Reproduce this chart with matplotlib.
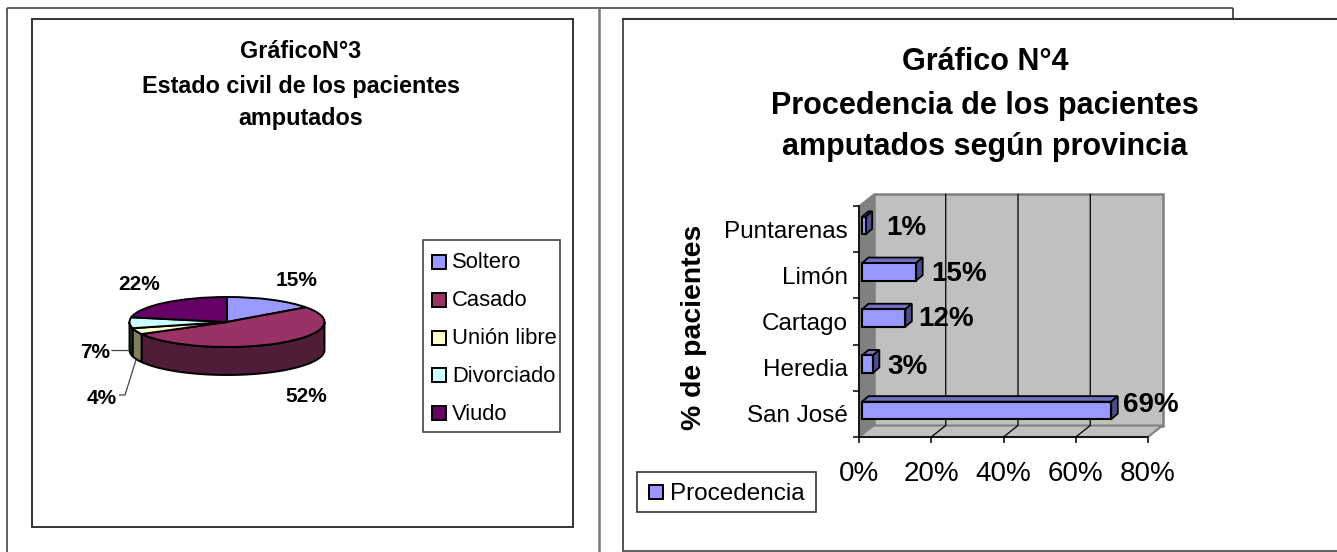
import numpy as np
import matplotlib
matplotlib.use("Agg")
import matplotlib.pyplot as plt
from matplotlib.patches import Rectangle, Polygon

plt.rcParams['font.family'] = ['Liberation Sans', 'DejaVu Sans']

# ---- data ----
civil_labels = ['Soltero', 'Casado', 'Unión libre', 'Divorciado', 'Viudo']
civil_values = [15, 52, 4, 7, 22]
civil_text = ['15%', '52%', '4%', '7%', '22%']
civil_title = ['GráficoN°3', 'Estado civil de los pacientes', 'amputados']

prov_labels = ['San José', 'Heredia', 'Cartago', 'Limón', 'Puntarenas']
prov_values = [69, 3, 12, 15, 1]
prov_text = ['69%', '3%', '12%', '15%', '1%']
prov_ticks = [0, 20, 40, 60, 80]
prov_title = ['Gráfico N°4', 'Procedencia de los pacientes', 'amputados según provincia']

# ---- styles ----
W, H = 1337, 552
pie_top = ['#9999FF', '#993366', '#FFFFCC', '#CCFFFF', '#660066']
pie_side = ['#4D4D80', '#4F1D38', '#808060', '#2A3A3A', '#330033']

fig = plt.figure(figsize=(W / 100, H / 100), dpi=100, facecolor='white')


def px_axes(x0, x1, ytop, ybot, z=1):
    a = fig.add_axes([x0 / W, 1 - ybot / H, (x1 - x0) / W, (ybot - ytop) / H], zorder=z)
    a.patch.set_alpha(0)
    return a


# ---- page overlay in pixel coordinates ----
bg = fig.add_axes([0, 0, 1, 1], zorder=0)
bg.set_xlim(0, W)
bg.set_ylim(H, 0)
bg.axis('off')
over = fig.add_axes([0, 0, 1, 1], zorder=5)
over.set_xlim(0, W)
over.set_ylim(H, 0)
over.axis('off')
over.patch.set_alpha(0)


def seg(xs, ys, c='black', lw=1.2, a=bg):
    a.plot(xs, ys, color=c, lw=lw, solid_capstyle='butt', clip_on=False)


seg([7, 1233], [8, 8], '#555555', 1.3)
seg([7, 7], [8, 552], '#444444', 1.2)
seg([599, 599], [8, 552], '#777777', 1.8)
seg([1233, 1233], [8, 19], '#333333', 1.2)
seg([622, 1337], [19, 19], '#333333', 1.5)
seg([622.5, 622.5], [19, 551], '#333333', 1.2)
seg([622, 1337], [551, 551], '#555555', 1.3)
bg.add_patch(Rectangle((32, 19), 541, 508, fc='white', ec='#333333', lw=1.4))
bg.add_patch(Rectangle((423, 240), 137, 192, fc='white', ec='#444444', lw=1.2))
bg.add_patch(Rectangle((637, 472), 179, 40, fc='white', ec='#333333', lw=1.2))

# titles
for s, y in zip(civil_title, [52, 86, 118]):
    over.text(301, y, s, fontsize=16.8, fontweight='bold', ha='center', va='center')
for s, y in zip(prov_title, [62, 106, 147]):
    over.text(985, y, s, fontsize=22, fontweight='bold', ha='center', va='center')

# ---- pie ----
rx, ry, depth = 97.5, 25, 28
cx, cy = 227, 322
pa = px_axes(cx - rx, cx + rx, cy - ry, cy + ry + depth, 2)
wedges, _ = pa.pie(civil_values, colors=pie_top, startangle=90, counterclock=False,
                   radius=1, wedgeprops=dict(ec='black', lw=1.4))
pa.set_aspect('auto')
pa.set_xlim(-1, 1)
pa.set_ylim(-1 - 2 * depth / (2 * ry), 1)
for w in wedges:
    w.set_clip_on(False)
    w.set_zorder(5)
d = depth / ry
cum = np.cumsum([0] + civil_values) / sum(civil_values) * 2 * np.pi
for i in range(len(civil_values)):
    # clockwise from top; only the front half (angle between 90 and 270 deg) shows a side
    a0 = max(cum[i], np.pi / 2)
    a1 = min(cum[i + 1], 3 * np.pi / 2)
    if a1 <= a0:
        continue
    t = np.linspace(a0, a1, 60)
    xs, ys = np.sin(t), np.cos(t)
    pts = np.r_[np.c_[xs, ys], np.c_[xs[::-1], ys[::-1] - d]]
    pa.add_patch(Polygon(pts, closed=True, fc=pie_side[i], ec='black', lw=1.4, zorder=3, clip_on=False))

for s, (x, y) in zip(civil_text, [(297, 281), (306, 396), (102, 398), (95, 352), (139, 284)]):
    over.text(x, y, s, fontsize=15, fontweight='bold', ha='center', va='center')
seg([111, 129], [350, 350], '#444444', 0.9, over)
seg([119, 125, 136], [395, 395, 360], '#444444', 0.9, over)

# pie legend
for lab, col, y in zip(civil_labels, pie_top, [261.5, 299.5, 337.5, 374.5, 412.5]):
    bg.add_patch(Rectangle((431.5, y - 7), 14, 14, fc=col, ec='black', lw=1.4, zorder=3))
    bg.text(452, y + 1.5, lab, fontsize=15.8, ha='left', va='center')

# ---- 3D-looking bars ----
ba = px_axes(859, 1148, 206, 437, 2)
ba.set_xlim(0, 80)
ba.set_ylim(-0.5, 4.5)
sx = 289 / 80
sy = 231 / 5
wall_dx, wall_dy = 14.5 / sx, 11.5 / sy
x0, x1, y0, y1 = 0, 80, -0.5, 4.5
ba.add_patch(Polygon([(x0 + wall_dx, y0 + wall_dy), (x1 + wall_dx, y0 + wall_dy),
                      (x1 + wall_dx, y1 + wall_dy), (x0 + wall_dx, y1 + wall_dy)],
                     fc='#C0C0C0', ec='#808080', lw=1.8, clip_on=False, zorder=1))
ba.add_patch(Polygon([(x0, y0), (x0 + wall_dx, y0 + wall_dy), (x0 + wall_dx, y1 + wall_dy), (x0, y1)],
                     fc='#808080', ec='#808080', lw=1, clip_on=False, zorder=1))
ba.add_patch(Polygon([(x0, y0), (x1, y0), (x1 + wall_dx, y0 + wall_dy), (x0 + wall_dx, y0 + wall_dy)],
                     fc='#C0C0C0', ec='#808080', lw=1.5, clip_on=False, zorder=1))
for v in prov_ticks[1:-1]:
    ba.plot([v, v + wall_dx, v + wall_dx], [y0, y0 + wall_dy, y1 + wall_dy], color='black', lw=0.9,
            clip_on=False, zorder=2)

bx, by = 3 / sx, 3.5 / sy
bh = 17.5 / sy
fx, fy = 6.5 / sx, 5.5 / sy
pos = np.arange(len(prov_values))
ba.barh(pos + by, prov_values, height=bh, left=bx, color='#9999FF', edgecolor='black', lw=1.5,
        zorder=4, clip_on=False)
for p, v in zip(pos, prov_values):
    l, r = bx, bx + v
    b, t = p + by - bh / 2, p + by + bh / 2
    ba.add_patch(Polygon([(l, t), (r, t), (r + fx, t + fy), (l + fx, t + fy)], fc='#7070C0', ec='black',
                         lw=1.3, zorder=3, clip_on=False))
    ba.add_patch(Polygon([(r, b), (r + fx, b + fy), (r + fx, t + fy), (r, t)], fc='#4D4D8C', ec='black',
                         lw=1.3, zorder=3, clip_on=False))

for s in ['top', 'right']:
    ba.spines[s].set_visible(False)
for s in ['left', 'bottom']:
    ba.spines[s].set_linewidth(1.2)
    ba.spines[s].set_zorder(6)
ba.set_xticks(prov_ticks)
ba.set_xticklabels([f'{v}%' for v in prov_ticks], fontsize=20)
ba.set_yticks(np.arange(-0.5, 5, 1))
ba.set_yticklabels([])
ba.set_yticks(pos, labels=prov_labels, minor=True, fontsize=17.5)
ba.tick_params(axis='y', which='major', length=4, width=1.1)
ba.tick_params(axis='y', which='minor', length=0, pad=8)
ba.tick_params(axis='x', length=4, width=1.1, pad=13)

for s, (x, y) in zip(prov_text, [(1123, 405), (887, 367), (918, 319), (931, 274), (886, 228)]):
    over.text(x, y, s, fontsize=20, fontweight='bold', ha='left', va='center')
over.text(694, 327, '% de pacientes', fontsize=20.4, fontweight='bold', rotation=90, ha='center', va='center')

# bars legend
bg.add_patch(Rectangle((648.5, 485), 14, 14, fc='#9999FF', ec='black', lw=1.4, zorder=3))
bg.text(670, 493.5, 'Procedencia', fontsize=17.5, ha='left', va='center')

fig.savefig('out.png', dpi=100, facecolor='white')
